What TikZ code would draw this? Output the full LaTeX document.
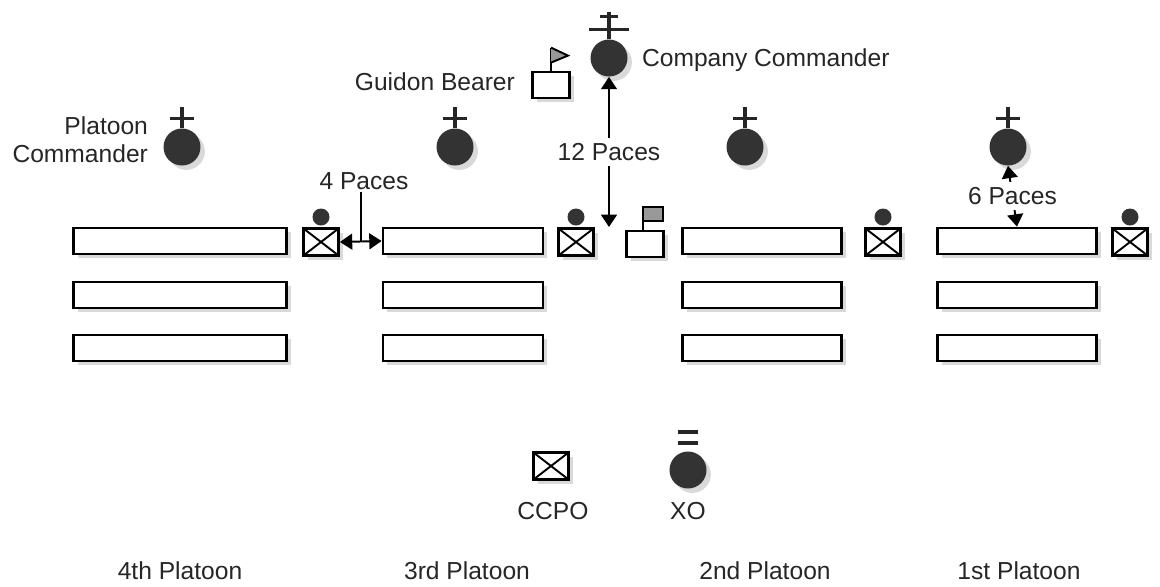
\documentclass[tikz,border=0pt]{standalone}
\usepackage{fontspec}
\setmainfont{Liberation Sans}
\usetikzlibrary{arrows.meta,positioning,shadows,calc}
\tikzset{
  shad/.style={drop shadow={opacity=0.3, shadow xshift=2.5pt, shadow yshift=-2.5pt}},
  rank/.style={draw, line width=1.6pt, fill=white, minimum height=0.52cm, minimum width=#1, inner sep=0pt, shad},
  ccpo/.style={draw, line width=1.6pt, fill=white, minimum width=0.7cm, minimum height=0.54cm, inner sep=0pt, shad,
    path picture={\draw[line width=1.1pt] (path picture bounding box.south west) -- (path picture bounding box.north east)
      (path picture bounding box.north west) -- (path picture bounding box.south east);}},
  guidon/.style={draw, line width=1.6pt, fill=white, minimum width=0.74cm, minimum height=0.52cm, inner sep=0pt, shad},
  man/.style={circle, fill=black!80, minimum size=0.74cm, inner sep=0pt, shad},
  head/.style={circle, fill=black!80, minimum size=0.34cm, inner sep=0pt},
  bar/.style={line width=1.8pt, black!85},
  pace/.style={{Triangle[width=9pt,length=7pt]}-{Triangle[width=9pt,length=7pt]}, line width=1.1pt},
  note/.style={text=black!85, inner sep=1pt}
}
\begin{document}
\begin{tikzpicture}[x=0.02cm, y=-0.02cm, font=\fontsize{14}{16}\selectfont]
  \useasboundingbox (0,0) rectangle (1160,586);
  \foreach \x/\w/\n in {180/4.26cm/4, 463/3.2cm/3, 762/3.18cm/2, 1017/3.18cm/1}
    \foreach \y/\r in {241/a, 295/b, 348/c}
      \node[rank=\w] (r\n\r) at (\x,\y) {};
  \foreach \x/\n in {321/4, 576/3, 883/2, 1130/1} {
    \node[ccpo] (c\n) at (\x,242) {};
    \node[head] (h\n) at (\x,217) {};
  }
  \foreach \x/\n in {182/4, 455/3, 745/2, 1008/1} {
    \node[man] (pc\n) at (\x,147) {};
    \draw[bar] (pc\n.north) -- ++(0,-21);
    \draw[bar] ($(pc\n.north)+(-12,-10)$) -- ++(24,0);
  }
  \node[note, anchor=east, align=right] (pclbl) at (150,140) {Platoon\\Commander};
  % company commander
  \node[man] (cc) at (609,58) {};
  \draw[bar] (cc.north) -- ++(0,-27);
  \draw[bar] ($(cc.north)+(-20,-10)$) -- ++(40,0);
  \draw[bar] ($(cc.north)+(-9,-23)$) -- ++(18,0);
  \node[note, anchor=west] (cclbl) at (640,60) {Company Commander};
  % guidons
  \node[guidon] (gb) at (551,85) {};
  \draw[line width=1.4pt] (gb.north) -- ++(0,-23) coordinate (gbf);
  \draw[line width=1.1pt, fill=black!40] (gbf) -- ++(17,8) -- ++(-17,7);
  \node[note, anchor=east] (gblbl) at (517,82) {Guidon Bearer};
  \node[guidon] (gd) at (645,244) {};
  \draw[line width=1.4pt] ($(gd.north)+(-2,0)$) -- ++(0,-9) coordinate (gdf);
  \draw[line width=1.1pt, fill=black!40] (gdf) rectangle ++(20,-14);
  % paces
  \coordinate (p12) at (609,227);
  \draw[pace] (cc.south) -- (p12) node[note, midway, fill=white, inner sep=3pt] {12 Paces};
  \draw[pace] (pc1.south) -- (r1a.north) node[note, midway, fill=white, inner sep=3pt] {6 Paces};
  \draw[pace] (c4.east) -- coordinate[pos=0.5] (m4) (r3a.west);
  \node[note] (l4) at (364,181) {4 Paces};
  \draw[line width=1.1pt] (l4.south -| m4) -- (m4);
  % legend
  \node[ccpo] (lc) at (551,466) {};
  \node[note] (lclbl) at (553,511) {CCPO};
  \node[man] (xo) at (688,470) {};
  \draw[bar, line width=2.2pt] ($(xo.north)+(-10,-8)$) -- ++(20,0);
  \draw[bar, line width=2.2pt] ($(xo.north)+(-10,-19)$) -- ++(20,0);
  \node[note] (xolbl) at (688,511) {XO};
  \foreach \x/\t in {180/4th, 467/3rd, 765/2nd, 1019/1st}
    \node[note] at (\x,571) {\t\ Platoon};
\end{tikzpicture}
\end{document}
